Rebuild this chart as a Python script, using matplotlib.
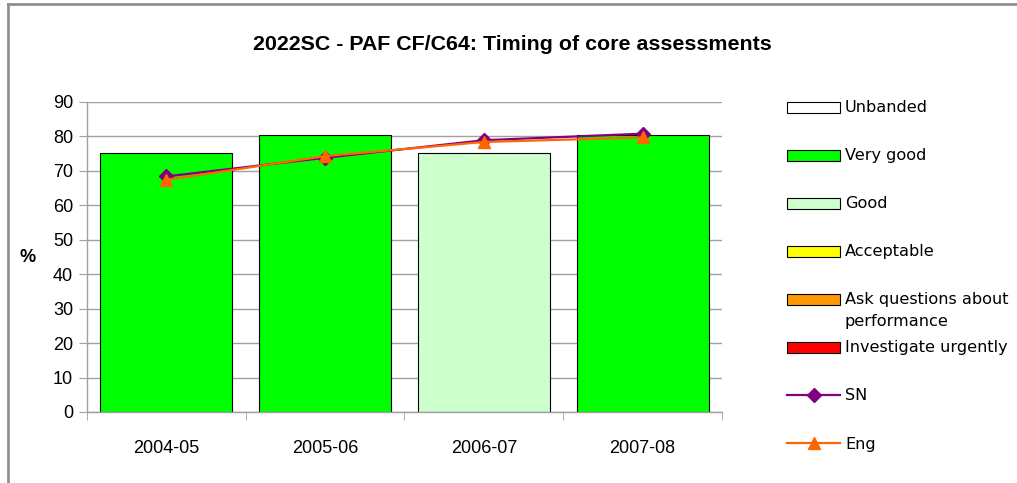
import numpy as np
import matplotlib.pyplot as plt
from matplotlib.patches import Rectangle
from matplotlib.lines import Line2D

plt.rcParams["font.family"] = ["Liberation Sans", "DejaVu Sans"]

# data
years = ["2004-05", "2005-06", "2006-07", "2007-08"]
values = [75.2, 80.3, 75.2, 80.3]
bands = ["Very good", "Very good", "Good", "Very good"]
sn = [68.4, 73.8, 78.9, 80.8]
eng = [67.4, 74.3, 78.4, 79.7]

band_order = [
    "Unbanded",
    "Very good",
    "Good",
    "Acceptable",
    "Ask questions about\nperformance",
    "Investigate urgently",
]
band_colors = {
    "Unbanded": "#FFFFFF",
    "Very good": "#00FF00",
    "Good": "#CCFFCC",
    "Acceptable": "#FFFF00",
    "Ask questions about\nperformance": "#FF9900",
    "Investigate urgently": "#FF0000",
}
SN_COLOR = "#800080"
ENG_COLOR = "#FF6600"
GRID = "#A0A0A0"

W, H = 1017, 483


def fx(px):
    return px / W


def fy(py):
    return 1 - py / H


fig = plt.figure(figsize=(W / 100, H / 100), dpi=100)
ax = fig.add_axes([fx(87), fy(412), fx(722 - 87), (412 - 102) / H])

x = np.arange(len(years))
ax.bar(
    x,
    values,
    width=0.83,
    color=[band_colors[b] for b in bands],
    edgecolor="black",
    linewidth=0.8,
    zorder=2,
)
ax.plot(x, sn, color=SN_COLOR, linewidth=1.6, marker="D", markersize=7,
        zorder=3)
ax.plot(x, eng, color=ENG_COLOR, linewidth=1.6, marker="^", markersize=9,
        zorder=4)

ax.set_xlim(-0.5, len(years) - 0.5)
ax.set_ylim(0, 90)
ax.set_yticks(range(0, 91, 10))
ax.set_xticks(x)
ax.set_xticklabels(years)
ax.set_xticks(np.arange(-0.5, len(years)), minor=True)
ax.tick_params(axis="x", which="major", length=0, pad=20, labelsize=13)
ax.tick_params(axis="x", which="minor", length=6, color=GRID)
ax.tick_params(axis="y", length=6, color=GRID, labelsize=13, pad=4)
ax.yaxis.grid(True, color=GRID, linewidth=1.0, zorder=0)
ax.set_axisbelow(True)
for side in ("top", "right"):
    ax.spines[side].set_visible(False)
for side in ("left", "bottom"):
    ax.spines[side].set_color(GRID)
    ax.spines[side].set_linewidth(1.0)

ax.set_ylabel("%", rotation=0, fontweight="bold", fontsize=13, labelpad=18,
              va="center")

fig.text(fx((8 + W) / 2), fy(45),
         "2022SC - PAF CF/C64: Timing of core assessments",
         ha="center", va="center", fontsize=15.4, fontweight="bold")

# chart frame (only top/left edges show in the reference)
fig.add_artist(Line2D([fx(8), fx(8)], [0, fy(4)], color="#909090",
                      linewidth=2, transform=fig.transFigure))
fig.add_artist(Line2D([fx(8), 1], [fy(4), fy(4)], color="#909090",
                      linewidth=2, transform=fig.transFigure))

# legend, laid out like the Excel one (fixed row pitch)
legend_font = {"family": "DejaVu Sans", "size": 11.6}
row0, pitch = 107, 48
for i, name in enumerate(band_order):
    yc = row0 + i * pitch
    fig.add_artist(Rectangle((fx(787), fy(yc + 5.5)), fx(53), 11 / H,
                             facecolor=band_colors[name], edgecolor="black",
                             linewidth=0.8, transform=fig.transFigure))
    fig.text(fx(845), fy(yc - 7), name, ha="left", va="top",
             linespacing=1.55, **legend_font)

for j, (name, color, marker, ms) in enumerate(
        [("SN", SN_COLOR, "D", 7), ("Eng", ENG_COLOR, "^", 9)]):
    yc = row0 + (len(band_order) + j) * pitch
    fig.add_artist(Line2D([fx(787), fx(840)], [fy(yc), fy(yc)], color=color,
                          linewidth=1.6, transform=fig.transFigure))
    fig.add_artist(Line2D([fx(813.5)], [fy(yc)], color=color, marker=marker,
                          markersize=ms, linestyle="none",
                          transform=fig.transFigure))
    fig.text(fx(845), fy(yc + 1), name, ha="left", va="center", **legend_font)

fig.savefig("out.png", dpi=100)
